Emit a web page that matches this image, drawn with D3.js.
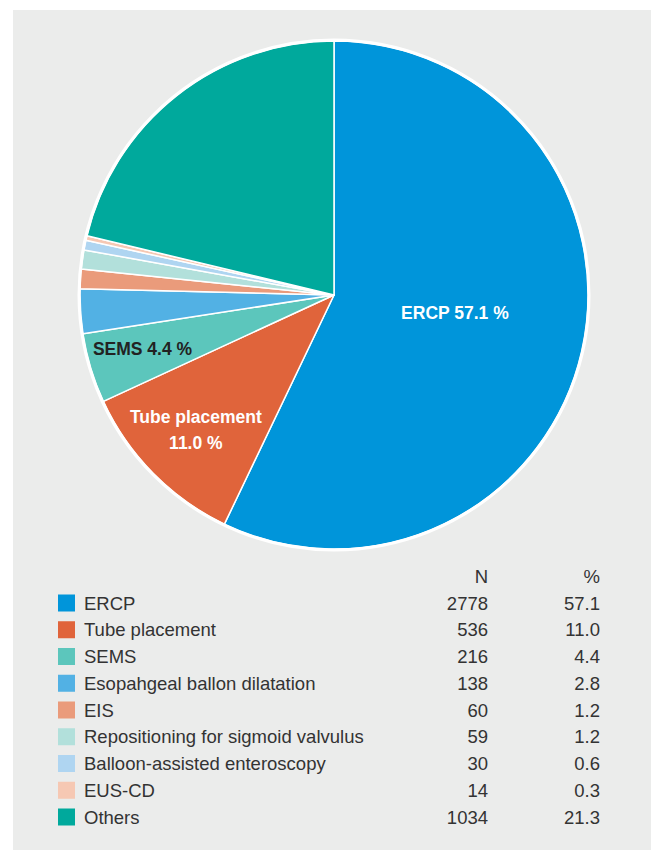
<!DOCTYPE html>
<html>
<head>
<meta charset="utf-8">
<script src="https://cdn.jsdelivr.net/npm/d3@7"></script>
<style>
  html, body { margin: 0; padding: 0; background: #fff; }
  svg { display: block; }
  text { font-family: "Liberation Sans", Arial, sans-serif; }
</style>
</head>
<body>
<script>
// Procedure categories, counts and shares
var categories = ["ERCP", "Tube placement", "SEMS", "Esopahgeal ballon dilatation", "EIS",
                  "Repositioning for sigmoid valvulus", "Balloon-assisted enteroscopy", "EUS-CD", "Others"];
var counts = [2778, 536, 216, 138, 60, 59, 30, 14, 1034];
var percents = ["57.1", "11.0", "4.4", "2.8", "1.2", "1.2", "0.6", "0.3", "21.3"];
var colors = ["#0095da", "#e0643b", "#5cc6bc", "#52b1e4", "#ea9b7b",
              "#b2e0db", "#afd5f1", "#f6c8b3", "#00a99c"];
var columnHeads = ["N", "%"];

var W = 651, H = 850;
var cx = 334, cy = 295, R = 255;

var svg = d3.select("body").append("svg")
    .attr("width", W)
    .attr("height", H);

// grey panel behind everything
svg.append("rect")
    .attr("x", 13).attr("y", 10)
    .attr("width", W - 13).attr("height", H - 10)
    .attr("fill", "#ebeceb");

var rows = categories.map(function(c, i){
    return { name: c, n: counts[i], pct: percents[i], color: colors[i] };
});

var pie = d3.pie().sort(null).value(function(d){ return d.n; });
var arc = d3.arc().innerRadius(0).outerRadius(R - 1);

var g = svg.append("g").attr("transform", "translate(" + cx + "," + cy + ")");

g.selectAll("path")
    .data(pie(rows))
    .enter().append("path")
    .attr("d", arc)
    .attr("fill", function(d){ return d.data.color; })
    .attr("stroke", "#fff")
    .attr("stroke-width", 1.5)
    .attr("stroke-linejoin", "round");

// white rim round the pie
g.append("circle")
    .attr("r", R)
    .attr("fill", "none")
    .attr("stroke", "#fff")
    .attr("stroke-width", 3);

// in-slice labels: radius from centre, small vertical nudge, text lines, colour
var sliceLabels = {
    "ERCP": { r: 124, dy: -9, lines: ["ERCP 57.1 %"], fill: "#fff" },
    "Tube placement": { r: 194, dy: -1, lines: ["Tube placement", "11.0 %"], fill: "#fff" },
    "SEMS": { r: 200, dy: -4, lines: ["SEMS 4.4 %"], fill: "#222" }
};

g.selectAll("text.slice")
    .data(pie(rows).filter(function(d){ return sliceLabels[d.data.name]; }))
    .enter().append("text")
    .attr("class", "slice")
    .attr("text-anchor", "middle")
    .attr("font-size", 17.5)
    .attr("font-weight", "bold")
    .attr("fill", function(d){ return sliceLabels[d.data.name].fill; })
    .each(function(d){
        var lab = sliceLabels[d.data.name];
        var c = d3.arc().innerRadius(lab.r).outerRadius(lab.r).centroid(d);
        var t = d3.select(this);
        var n = lab.lines.length;
        lab.lines.forEach(function(line, i){
            t.append("tspan")
                .attr("x", c[0])
                .attr("y", c[1] + 6 + lab.dy + (i - (n - 1) / 2) * 26)
                .text(line);
        });
    });

// legend table
var legTop = 603, rowH = 26.75;
var nRight = 488, pRight = 600;

var y = d3.scaleLinear().domain([0, 1]).range([legTop, legTop + rowH]);

var head = svg.append("g").attr("font-size", 18.5).attr("fill", "#333").attr("text-anchor", "end");
head.append("text").attr("x", nRight).attr("y", y(-1) + 6.5).text(columnHeads[0]);
head.append("text").attr("x", pRight).attr("y", y(-1) + 6.5).text(columnHeads[1]);

var leg = svg.selectAll("g.row")
    .data(rows)
    .enter().append("g")
    .attr("class", "row")
    .attr("transform", function(d, i){ return "translate(0," + y(i) + ")"; });

leg.append("rect")
    .attr("x", 58).attr("y", -8.5)
    .attr("width", 17).attr("height", 17)
    .attr("fill", function(d){ return d.color; });

leg.append("text")
    .attr("x", 84).attr("y", 6.5)
    .attr("font-size", 18.5)
    .attr("fill", "#333")
    .text(function(d){ return d.name; });

leg.append("text")
    .attr("x", nRight).attr("y", 6.5)
    .attr("font-size", 18.5)
    .attr("fill", "#333")
    .attr("text-anchor", "end")
    .text(function(d){ return d.n; });

leg.append("text")
    .attr("x", pRight).attr("y", 6.5)
    .attr("font-size", 18.5)
    .attr("fill", "#333")
    .attr("text-anchor", "end")
    .text(function(d){ return d.pct; });
</script>
</body>
</html>
